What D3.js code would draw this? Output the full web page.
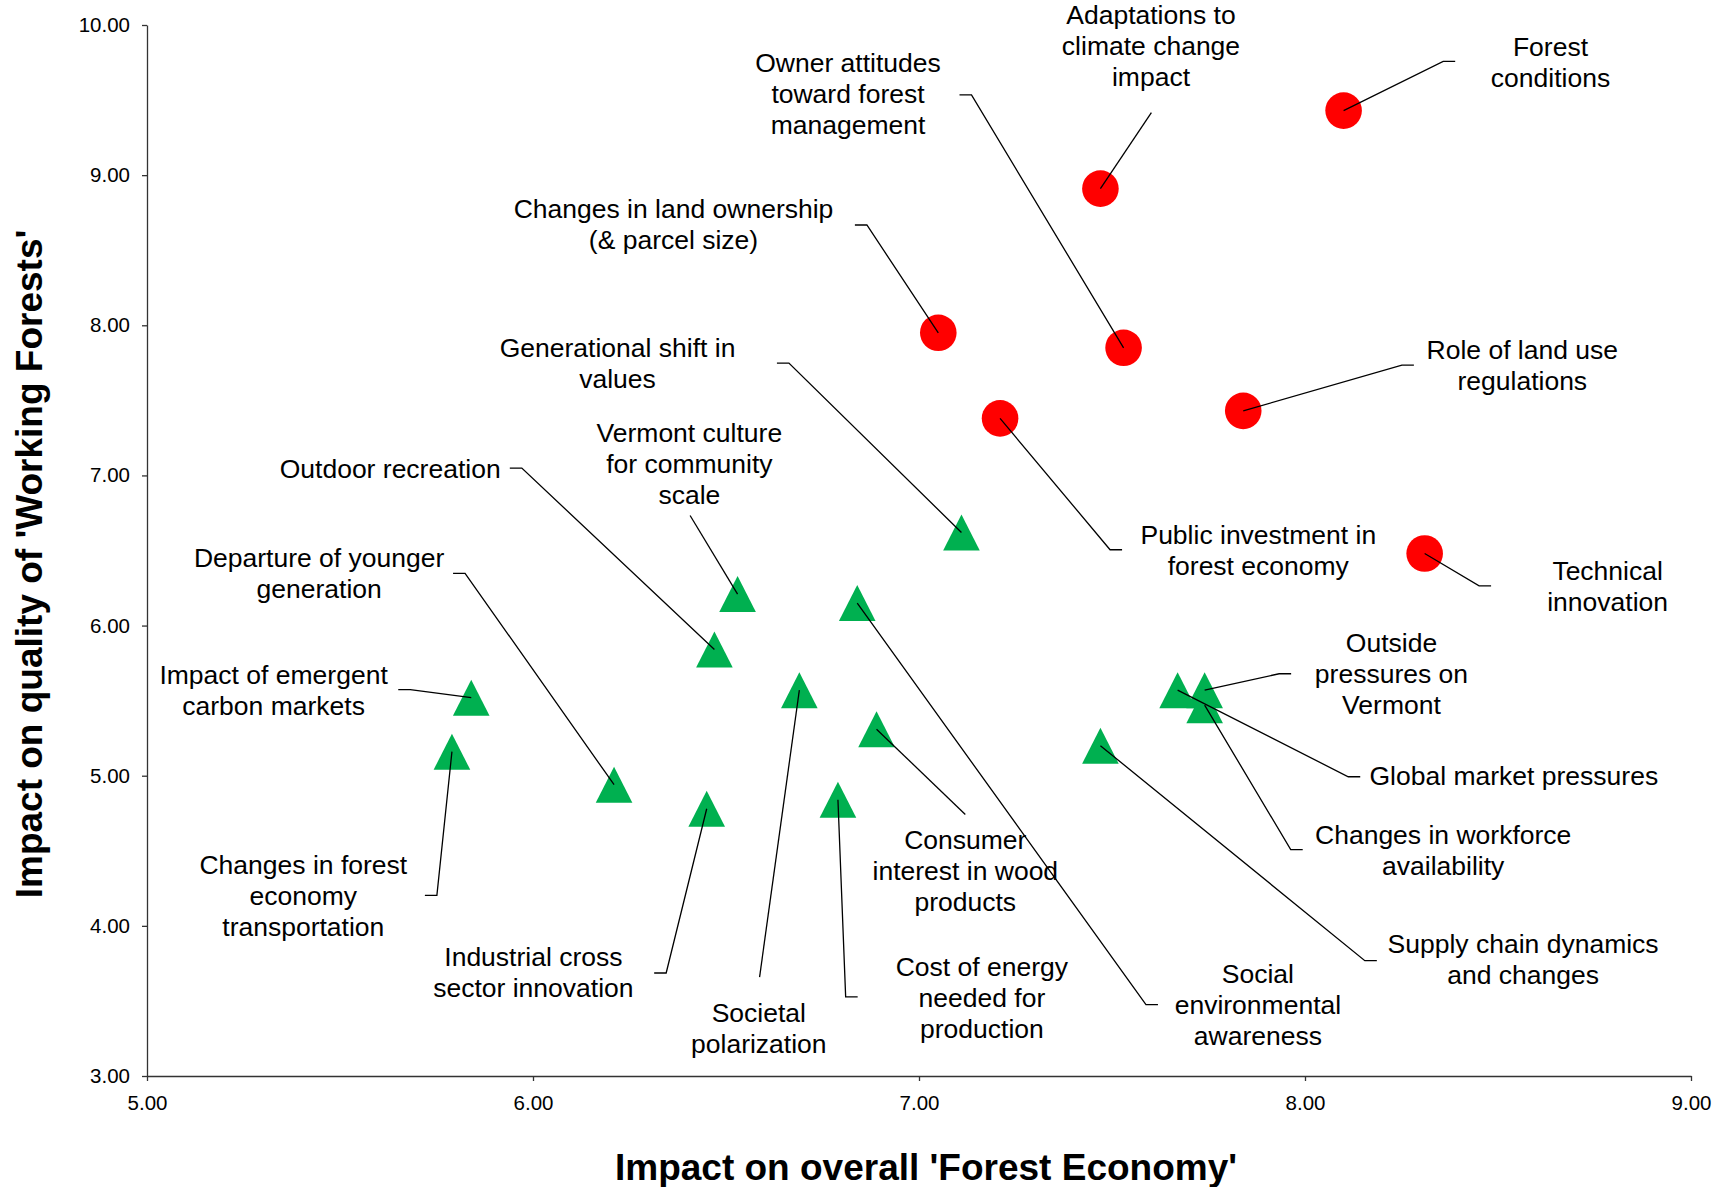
<!DOCTYPE html>
<html>
<head>
<meta charset="utf-8">
<script src="https://cdn.jsdelivr.net/npm/d3@7"></script>
<style>
  html, body { margin: 0; padding: 0; background: #fff; }
  svg { display: block; font-family: "Liberation Sans", Arial, Helvetica, sans-serif; }
</style>
</head>
<body>
<svg id="chart" width="1729" height="1187"></svg>
<script>
// ---------------- DATA ----------------
// High-impact drivers (red circles)
const redNames = [
  "Forest conditions",
  "Adaptations to climate change impact",
  "Changes in land ownership (& parcel size)",
  "Owner attitudes toward forest management",
  "Role of land use regulations",
  "Public investment in forest economy",
  "Technical innovation"
];
const redForestEconomy = [8.10, 7.47, 7.05, 7.53, 7.84, 7.21, 8.31];
const redWorkingForests = [9.43, 8.91, 7.95, 7.85, 7.43, 7.38, 6.48];

// Other drivers (green triangles)
const greenNames = [
  "Generational shift in values",
  "Vermont culture for community scale",
  "Social environmental awareness",
  "Outdoor recreation",
  "Societal polarization",
  "Global market pressures",
  "Outside pressures on Vermont",
  "Impact of emergent carbon markets",
  "Changes in workforce availability",
  "Consumer interest in wood products",
  "Supply chain dynamics and changes",
  "Changes in forest economy transportation",
  "Departure of younger generation",
  "Cost of energy needed for production",
  "Industrial cross sector innovation"
];
const greenForestEconomy = [7.11, 6.53, 6.84, 6.47, 6.69, 7.67, 7.74, 5.84, 7.74, 6.89, 7.47, 5.79, 6.21, 6.79, 6.45];
const greenWorkingForests = [6.62, 6.21, 6.15, 5.84, 5.57, 5.57, 5.57, 5.52, 5.47, 5.31, 5.20, 5.16, 4.94, 4.84, 4.78];

const xTicks = [5, 6, 7, 8, 9];
const yTicks = [3, 4, 5, 6, 7, 8, 9, 10];
const xTitle = "Impact on overall 'Forest Economy'";
const yTitle = "Impact on quality of 'Working Forests'";

// Label layout (annotation text placement, in data units; dir = direction of short horizontal stub)
const labelLayout = [
  { name: "Forest conditions", lines: ["Forest", "conditions"], lx: 8.636, ly: 9.794, ex: 8.358, ey: 9.758, dir: 1 },
  { name: "Adaptations to climate change impact", lines: ["Adaptations to", "climate change", "impact"], lx: 7.601, ly: 10.007, ex: 7.602, ey: 9.416, dir: 0 },
  { name: "Owner attitudes toward forest management", lines: ["Owner attitudes", "toward forest", "management"], lx: 6.816, ly: 9.687, ex: 7.136, ey: 9.534, dir: -1 },
  { name: "Changes in land ownership (& parcel size)", lines: ["Changes in land ownership", "(& parcel size)"], lx: 6.364, ly: 8.712, ex: 6.865, ey: 8.668, dir: -1 },
  { name: "Generational shift in values", lines: ["Generational shift in", "values"], lx: 6.219, ly: 7.790, ex: 6.663, ey: 7.748, dir: -1 },
  { name: "Vermont culture for community scale", lines: ["Vermont culture", "for community", "scale"], lx: 6.405, ly: 7.224, ex: 6.407, ey: 6.733, dir: 0 },
  { name: "Outdoor recreation", lines: ["Outdoor recreation"], lx: 5.630, ly: 6.983, ex: 5.971, ey: 7.049, dir: -1 },
  { name: "Departure of younger generation", lines: ["Departure of younger", "generation"], lx: 5.446, ly: 6.388, ex: 5.824, ey: 6.348, dir: -1 },
  { name: "Impact of emergent carbon markets", lines: ["Impact of emergent", "carbon markets"], lx: 5.328, ly: 5.609, ex: 5.682, ey: 5.574, dir: -1 },
  { name: "Changes in forest economy transportation", lines: ["Changes in forest", "economy", "transportation"], lx: 5.405, ly: 4.347, ex: 5.751, ey: 4.203, dir: -1 },
  { name: "Industrial cross sector innovation", lines: ["Industrial cross", "sector innovation"], lx: 6.001, ly: 3.730, ex: 6.345, ey: 3.686, dir: -1 },
  { name: "Societal polarization", lines: ["Societal", "polarization"], lx: 6.585, ly: 3.362, ex: 6.587, ey: 3.659, dir: 0 },
  { name: "Cost of energy needed for production", lines: ["Cost of energy", "needed for", "production"], lx: 7.163, ly: 3.668, ex: 6.810, ey: 3.527, dir: 1 },
  { name: "Consumer interest in wood products", lines: ["Consumer", "interest in wood", "products"], lx: 7.120, ly: 4.511, ex: 7.120, ey: 4.742, dir: 0 },
  { name: "Social environmental awareness", lines: ["Social", "environmental", "awareness"], lx: 7.878, ly: 3.618, ex: 7.588, ey: 3.475, dir: 1 },
  { name: "Public investment in forest economy", lines: ["Public investment in", "forest economy"], lx: 7.879, ly: 6.545, ex: 7.495, ey: 6.505, dir: 1 },
  { name: "Technical innovation", lines: ["Technical", "innovation"], lx: 8.784, ly: 6.305, ex: 8.451, ey: 6.265, dir: 1 },
  { name: "Role of land use regulations", lines: ["Role of land use", "regulations"], lx: 8.563, ly: 7.776, ex: 8.251, ey: 7.734, dir: 1 },
  { name: "Outside pressures on Vermont", lines: ["Outside", "pressures on", "Vermont"], lx: 8.224, ly: 5.826, ex: 7.933, ey: 5.679, dir: 1 },
  { name: "Global market pressures", lines: ["Global market pressures"], lx: 8.541, ly: 4.940, ex: 8.112, ey: 4.993, dir: 1 },
  { name: "Changes in workforce availability", lines: ["Changes in workforce", "availability"], lx: 8.358, ly: 4.547, ex: 7.963, ey: 4.508, dir: 1 },
  { name: "Supply chain dynamics and changes", lines: ["Supply chain dynamics", "and changes"], lx: 8.565, ly: 3.822, ex: 8.155, ey: 3.768, dir: 1 }
];

// ---------------- CHART ----------------
const W = 1729, H = 1187;
const margin = { top: 25, right: 38, bottom: 111, left: 147 };
const svg = d3.select("#chart");

const x = d3.scaleLinear().domain([5, 9]).range([margin.left, W - margin.right]);
const y = d3.scaleLinear().domain([3, 10]).range([H - margin.bottom, margin.top]);

const axisColor = "#333";
const fmt = d3.format(".2f");

// Axes
const gx = svg.append("g")
  .attr("transform", `translate(0,${H - margin.bottom})`)
  .call(d3.axisBottom(x).tickValues(xTicks).tickFormat(fmt).tickSizeInner(5).tickSizeOuter(0).tickPadding(14));
const gy = svg.append("g")
  .attr("transform", `translate(${margin.left},0)`)
  .call(d3.axisLeft(y).tickValues(yTicks).tickFormat(fmt).tickSizeInner(5).tickSizeOuter(0).tickPadding(12));

[gx, gy].forEach(g => {
  g.select(".domain").attr("stroke", axisColor).attr("stroke-width", 1.3);
  g.selectAll(".tick line").attr("stroke", axisColor).attr("stroke-width", 1.3);
  g.selectAll(".tick text").attr("fill", "#000").style("font-size", "20.5px")
    .style("font-family", '"Liberation Sans", Arial, sans-serif');
});

// Axis titles
svg.append("text")
  .attr("x", 926).attr("y", 1180)
  .attr("text-anchor", "middle")
  .style("font-size", "37px").style("font-weight", "bold")
  .text(xTitle);
svg.append("text")
  .attr("transform", `translate(42,564) rotate(-90)`)
  .attr("text-anchor", "middle")
  .style("font-size", "37px").style("font-weight", "bold")
  .text(yTitle);

// Point lookup
const points = [];
redNames.forEach((n, i) => points.push({ name: n, fx: redForestEconomy[i], wf: redWorkingForests[i], kind: "red" }));
greenNames.forEach((n, i) => points.push({ name: n, fx: greenForestEconomy[i], wf: greenWorkingForests[i], kind: "green" }));
const byName = new Map(points.map(p => [p.name, p]));

// Markers
const gMarks = svg.append("g");
gMarks.selectAll("circle.red")
  .data(points.filter(p => p.kind === "red"))
  .join("circle")
  .attr("class", "red")
  .attr("cx", d => x(d.fx))
  .attr("cy", d => y(d.wf))
  .attr("r", 18.3)
  .attr("fill", "#FF0000");

const triHalfW = 18.3, triHalfH = 18;
gMarks.selectAll("path.green")
  .data(points.filter(p => p.kind === "green"))
  .join("path")
  .attr("class", "green")
  .attr("d", d => {
    const cx = x(d.fx), cy = y(d.wf);
    return `M${cx},${cy - triHalfH}L${cx + triHalfW},${cy + triHalfH}L${cx - triHalfW},${cy + triHalfH}Z`;
  })
  .attr("fill", "#00B050");

// Leader lines
const stub = 12;
const gLines = svg.append("g");
gLines.selectAll("path")
  .data(labelLayout)
  .join("path")
  .attr("d", d => {
    const p = byName.get(d.name);
    const px = x(p.fx), py = y(p.wf);
    const ex = x(d.ex), ey = y(d.ey);
    let s = `M${px},${py}L${ex},${ey}`;
    if (d.dir !== 0) s += `L${ex + d.dir * stub},${ey}`;
    return s;
  })
  .attr("fill", "none")
  .attr("stroke", "#000")
  .attr("stroke-width", 1.3);

// Labels
const lineH = 31;
const gLabels = svg.append("g");
const lab = gLabels.selectAll("text")
  .data(labelLayout)
  .join("text")
  .attr("x", d => x(d.lx))
  .attr("y", d => y(d.ly))
  .attr("text-anchor", "middle")
  .style("font-size", "26.5px")
  .attr("fill", "#000");
lab.selectAll("tspan")
  .data(d => d.lines.map((t, i) => ({ t, i, d })))
  .join("tspan")
  .attr("x", o => x(o.d.lx))
  .attr("y", o => y(o.d.ly) + o.i * lineH)
  .text(o => o.t);
</script>
</body>
</html>
